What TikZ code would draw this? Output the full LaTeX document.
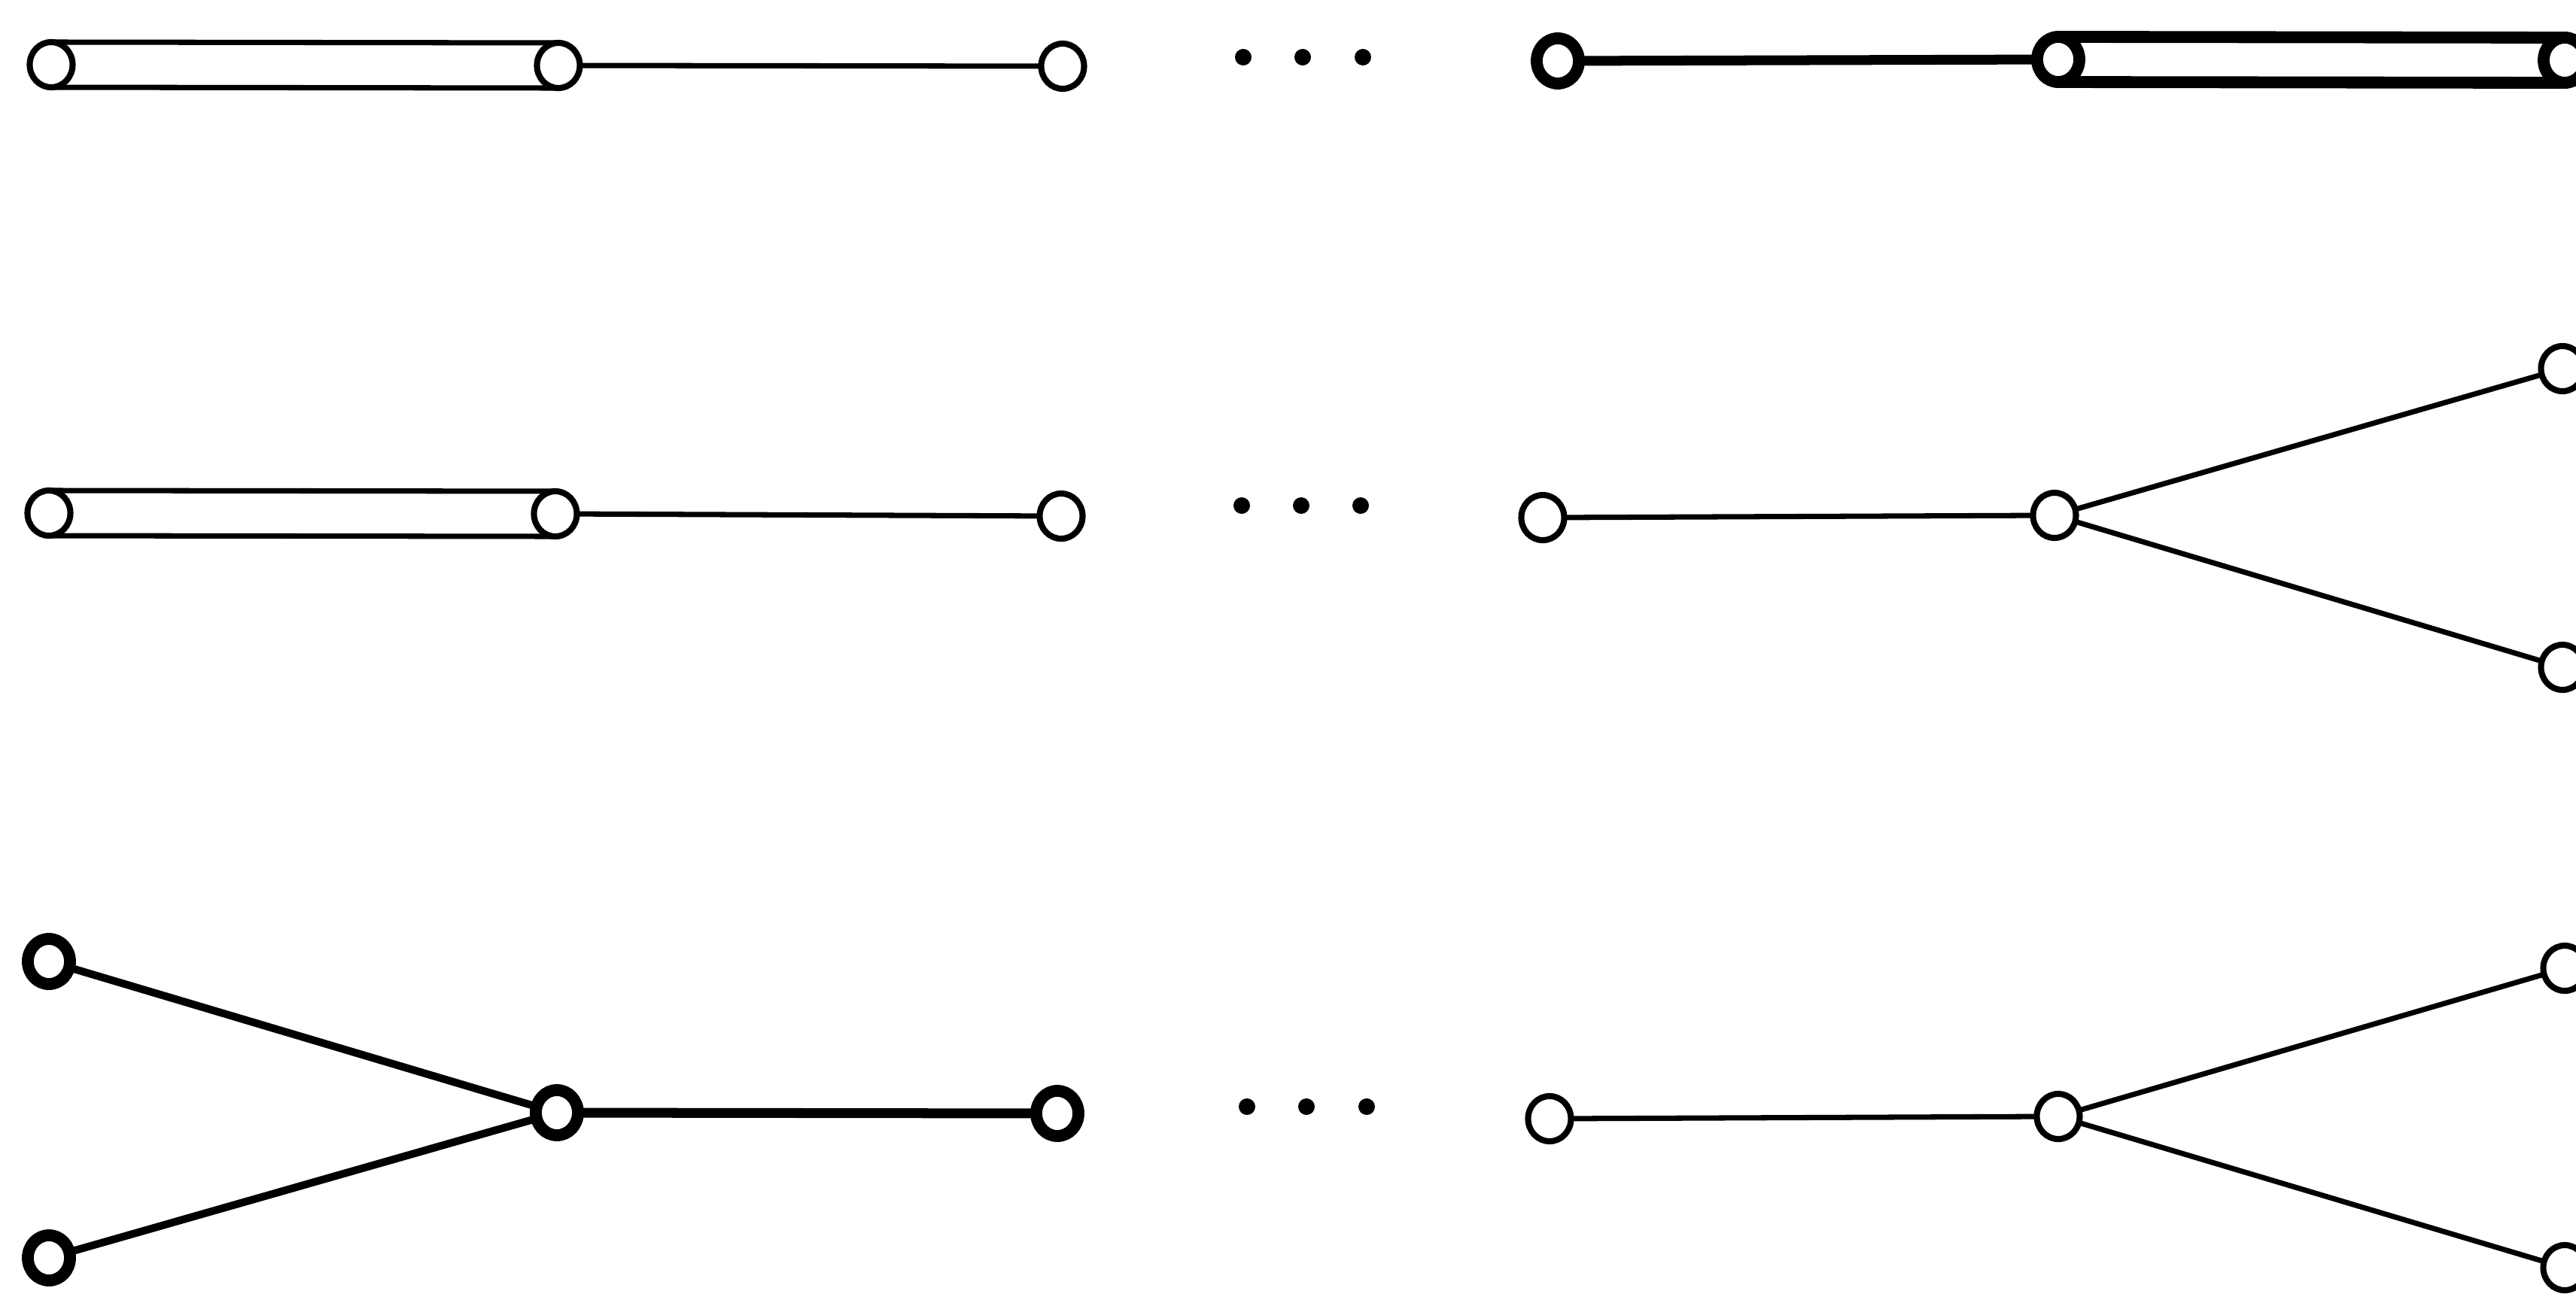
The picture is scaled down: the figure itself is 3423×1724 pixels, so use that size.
\documentclass[tikz,border=0pt]{standalone}
\usetikzlibrary{shapes.geometric}
\begin{document}
\begin{tikzpicture}[x=0.01cm,y=-0.01cm,
  thinv/.style={draw,ellipse,minimum width=0.57cm,minimum height=0.60cm,inner sep=0pt,outer sep=0pt,line width=2.3pt},
  thickv/.style={draw,ellipse,minimum width=0.56cm,minimum height=0.60cm,inner sep=0pt,outer sep=0pt,line width=4.5pt},
  thinl/.style={line width=2pt},
  thickl/.style={line width=3.7pt},
  barl/.style={line width=4.5pt},
  dotn/.style={circle,fill,inner sep=0pt,minimum size=0.22cm}]
\useasboundingbox (0,0) rectangle (3423,1724);

% ---------- Row 1 ----------
\node[thinv] (a1) at (68,86) {};
\node[thinv] (a2) at (742,87) {};
\node[thinv] (a3) at (1412,88) {};
\draw[thinl] (a1.north) -- (a2.north);
\draw[thinl] (a1.south) -- (a2.south);
\draw[thinl] (a2) -- (a3);
\node[dotn] (ad1) at (1652,76) {};
\node[dotn] (ad2) at (1731,76) {};
\node[dotn] (ad3) at (1811,76) {};
\node[thickv] (ar1) at (2070,81) {};
\node[thickv] (ar2) at (2735,79) {};
\node[thickv] (ar3) at (3408,80) {};
\draw[thickl] (ar1) -- (ar2);
\draw[barl] (ar2.north) -- (ar3.north);
\draw[barl] (ar2.south) -- (ar3.south);

% ---------- Row 2 ----------
\node[thinv] (b1) at (65,682) {};
\node[thinv] (b2) at (738,683) {};
\node[thinv] (b3) at (1410,686) {};
\draw[thinl] (b1.north) -- (b2.north);
\draw[thinl] (b1.south) -- (b2.south);
\draw[thinl] (b2) -- (b3);
\node[dotn] (bd1) at (1650,672) {};
\node[dotn] (bd2) at (1729,672) {};
\node[dotn] (bd3) at (1808,672) {};
\node[thinv] (br1) at (2050,688) {};
\node[thinv] (br2) at (2730,685) {};
\node[thinv] (br3) at (3405,490) {};
\node[thinv] (br4) at (3405,887) {};
\draw[thinl] (br1) -- (br2);
\draw[thinl] (br2) -- (br3);
\draw[thinl] (br2) -- (br4);

% ---------- Row 3 ----------
\node[thickv] (c1) at (65,1278) {};
\node[thickv] (c2) at (65,1672) {};
\node[thickv] (c3) at (740,1479) {};
\node[thickv] (c4) at (1405,1480) {};
\draw[line width=2.9pt] (c1) -- (c3);
\draw[line width=2.9pt] (c2) -- (c3);
\draw[thickl] (c3) -- (c4);
\node[dotn] (cd1) at (1657,1471) {};
\node[dotn] (cd2) at (1736,1471) {};
\node[dotn] (cd3) at (1816,1471) {};
\node[thinv] (cr1) at (2059,1487) {};
\node[thinv] (cr2) at (2735,1484) {};
\node[thinv] (cr3) at (3408,1287) {};
\node[thinv] (cr4) at (3408,1685) {};
\draw[thinl] (cr1) -- (cr2);
\draw[thinl] (cr2) -- (cr3);
\draw[thinl] (cr2) -- (cr4);
\end{tikzpicture}
\end{document}
